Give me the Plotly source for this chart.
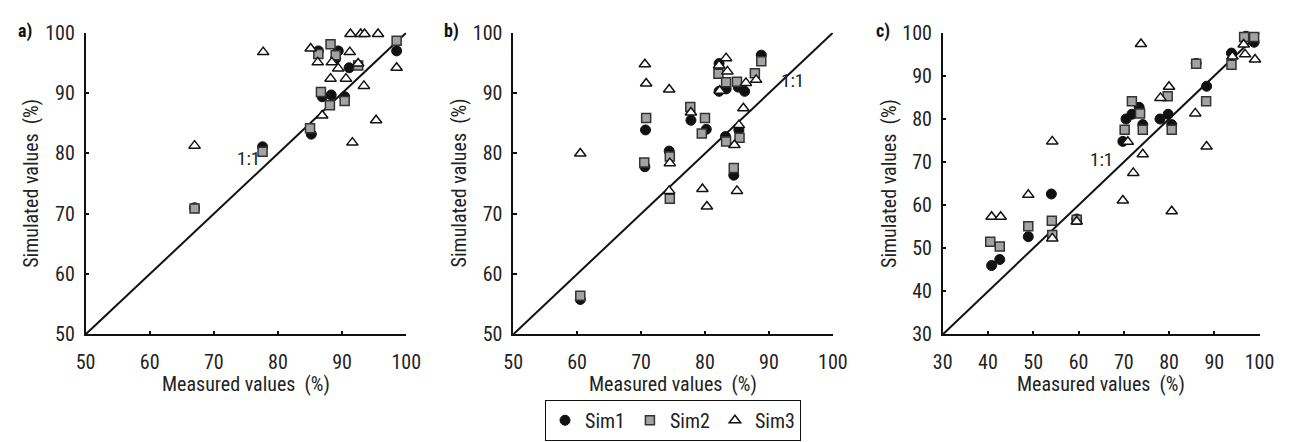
import plotly.graph_objects as go

# ---------------- data ----------------
# Panel a
a_s1_x = [67.0, 77.6, 85.2, 86.3, 86.9, 88.3, 89.4, 89.0, 90.4, 91.1, 92.0, 95.3, 98.5]
a_s1_y = [71.0, 81.1, 83.2, 97.0, 89.4, 89.7, 97.0, 95.7, 89.4, 94.2, 100.4, 100.4, 97.0]
a_s2_x = [67.0, 77.6, 85.0, 86.3, 86.7, 88.1, 88.2, 89.0, 90.4, 92.5, 91.3, 92.6, 93.3, 95.1, 98.5]
a_s2_y = [70.9, 80.3, 84.2, 96.5, 90.2, 88.0, 98.1, 96.3, 88.7, 94.6, 101.0, 101.0, 101.0, 101.0, 98.7]
a_s3_x = [67.0, 77.7, 85.1, 86.2, 86.9, 88.2, 88.4, 89.4, 90.6, 91.2, 91.6, 92.5, 91.3, 92.9, 93.5,
          95.6, 93.4, 95.3, 98.5]
a_s3_y = [81.3, 96.8, 97.4, 95.1, 86.3, 92.4, 95.1, 94.1, 92.4, 96.8, 81.8, 94.9, 99.8, 99.8, 99.8,
          99.8, 91.2, 85.5, 94.2]

# Panel b
b_s1_x = [60.5, 70.7, 70.6, 74.4, 77.8, 80.2, 82.2, 82.2, 83.3, 85.2, 86.2, 83.2, 85.3, 84.5, 88.8]
b_s1_y = [55.8, 83.9, 77.8, 80.4, 85.5, 84.0, 94.9, 90.3, 90.7, 91.0, 90.3, 82.8, 83.9, 76.4, 96.3]
b_s2_x = [60.5, 70.8, 70.5, 74.5, 74.5, 77.7, 80.0, 79.5, 82.1, 83.3, 85.0, 87.8, 83.3, 85.4, 84.5,
          88.8]
b_s2_y = [56.4, 85.9, 78.5, 79.5, 72.5, 87.7, 85.9, 83.3, 93.2, 91.8, 91.9, 93.3, 82.0, 82.6, 77.6,
          95.3]
b_s3_x = [60.5, 70.6, 70.8, 74.4, 74.5, 74.4, 77.8, 79.6, 80.3, 83.3, 82.2, 83.5, 82.3, 86.4, 86.0,
          85.3, 84.6, 85.0, 88.0]
b_s3_y = [80.0, 94.8, 91.6, 90.6, 78.4, 73.8, 86.8, 74.1, 71.2, 95.8, 94.6, 93.6, 90.4, 91.7, 87.5,
          84.7, 81.4, 73.8, 92.2]

# Panel c
c_s1_x = [40.8, 42.6, 48.9, 54.0, 59.6, 69.8, 70.5, 71.8, 73.4, 74.2, 78.0, 79.8, 80.6, 86.0, 88.3,
          93.8, 97.0, 98.8]
c_s1_y = [46.0, 47.4, 52.7, 62.6, 56.8, 74.8, 80.0, 81.1, 82.7, 78.7, 80.0, 81.1, 78.7, 92.9, 87.6,
          95.3, 99.2, 97.8]
c_s2_x = [40.5, 42.6, 48.9, 54.1, 54.2, 59.6, 70.2, 71.8, 73.6, 74.2, 79.7, 80.6, 86.0, 88.2, 93.8,
          96.6, 98.8]
c_s2_y = [51.5, 50.4, 55.1, 56.4, 53.1, 56.6, 77.5, 84.1, 81.3, 77.5, 85.3, 77.5, 92.8, 84.1, 92.6,
          99.0, 99.0]
c_s3_x = [40.8, 42.8, 48.9, 54.2, 54.2, 59.6, 69.8, 70.9, 72.1, 74.2, 73.8, 78.1, 80.0, 80.6, 85.8,
          88.3, 94.0, 96.5, 96.8, 99.0]
c_s3_y = [57.3, 57.3, 62.4, 74.8, 52.3, 56.2, 61.1, 74.7, 67.5, 71.8, 97.4, 84.9, 87.5, 58.6, 81.3,
          73.6, 94.5, 97.3, 95.0, 93.8]

ab_range = [50, 100]
c_range = [30, 100]
ab_ticks = [50, 60, 70, 80, 90, 100]
c_ticks = [30, 40, 50, 60, 70, 80, 90, 100]
series_names = ["Sim1", "Sim2", "Sim3"]
panel_labels = ["a)", "b)", "c)"]
x_title = "Measured values  (%)"
y_title = "Simulated values  (%)"

# ---------------- styling ----------------
W, H = 1302, 442
FONT = "Liberation Sans Narrow, Arial Narrow, Roboto Condensed, DejaVu Sans Condensed, sans-serif"
FS = 20
styles = [
    dict(symbol="circle", size=10, color="#111111", line=dict(color="#111111", width=1)),
    dict(symbol="square", size=9, color="#a3a3a3", line=dict(color="#333333", width=1.5)),
    dict(symbol="triangle-up", size=10, color="#ffffff", line=dict(color="#111111", width=1.5)),
]

# pixel geometry of panels
x_px = [(77, 404), (513, 839), (951, 1274)]
y_px = (22, 341)

fig = go.Figure()

panels = [
    (ab_range, ab_ticks, [(a_s1_x, a_s1_y), (a_s2_x, a_s2_y), (a_s3_x, a_s3_y)]),
    (ab_range, ab_ticks, [(b_s1_x, b_s1_y), (b_s2_x, b_s2_y), (b_s3_x, b_s3_y)]),
    (c_range, c_ticks, [(c_s1_x, c_s1_y), (c_s2_x, c_s2_y), (c_s3_x, c_s3_y)]),
]


def ann(text, px, py, size, angle=0, color="#222222"):
    return dict(text=text, x=px / W, y=(H - py) / H, xref="paper", yref="paper",
                xanchor="center", yanchor="middle", textangle=angle, showarrow=False,
                font=dict(family=FONT, size=size, color=color))


ydom = [(H - y_px[1]) / H, (H - y_px[0]) / H]
annotations = []
for i, (rng, ticks, data) in enumerate(panels):
    sfx = "" if i == 0 else str(i + 1)
    xa, ya = "x" + sfx, "y" + sfx
    # 1:1 line
    fig.add_trace(go.Scatter(x=rng, y=rng, mode="lines", line=dict(color="#111111", width=2),
                             xaxis=xa, yaxis=ya, showlegend=False, hoverinfo="skip"))
    for k, (xs, ys) in enumerate(data):
        st = styles[k]
        fig.add_trace(go.Scatter(
            x=xs, y=ys, mode="markers", name=series_names[k],
            marker=dict(symbol=st["symbol"], size=st["size"], color=st["color"], line=st["line"]),
            xaxis=xa, yaxis=ya, showlegend=(i == 0), legendgroup=series_names[k], cliponaxis=False))
    xd = [x_px[i][0] / W, x_px[i][1] / W]
    axis_common = dict(showline=True, linecolor="#111111", linewidth=1.5, ticks="inside",
                       ticklen=4, tickwidth=1.5, tickcolor="#111111", showgrid=False,
                       zeroline=False, tickfont=dict(family=FONT, size=FS, color="#222222"),
                       tickvals=ticks, fixedrange=True)
    fig.layout["xaxis" + sfx] = dict(domain=xd, range=rng, anchor=ya, ticklabelstandoff=9,
                                     **axis_common)
    fig.layout["yaxis" + sfx] = dict(domain=ydom, range=rng, anchor=xa, ticklabelstandoff=5,
                                     **axis_common)

    cx = (x_px[i][0] + x_px[i][1]) / 2
    annotations.append(ann(x_title, cx, 393, FS))
    annotations.append(ann(y_title, x_px[i][0] - 55, 181, FS, angle=-90))
    lab_x = [15, 450, 890][i]
    annotations.append(ann("<b>" + panel_labels[i] + "</b>", lab_x, 20, 18, color="#111111"))

# 1:1 labels
one_pos = [(243, 155), (798, 72), (1113, 156)]
for (px, py) in one_pos:
    annotations.append(ann("1:1", px, py, 19))

fig.update_layout(
    width=W, height=H, margin=dict(l=0, r=0, t=0, b=0),
    paper_bgcolor="white", plot_bgcolor="white",
    annotations=annotations,
    legend=dict(orientation="h", x=676 / W, xanchor="center", y=(H - 410) / H, yanchor="top",
                bordercolor="#111111", borderwidth=1, bgcolor="white",
                font=dict(family=FONT, size=FS, color="#222222")),
    font=dict(family=FONT),
)

fig.write_html("out.html")
